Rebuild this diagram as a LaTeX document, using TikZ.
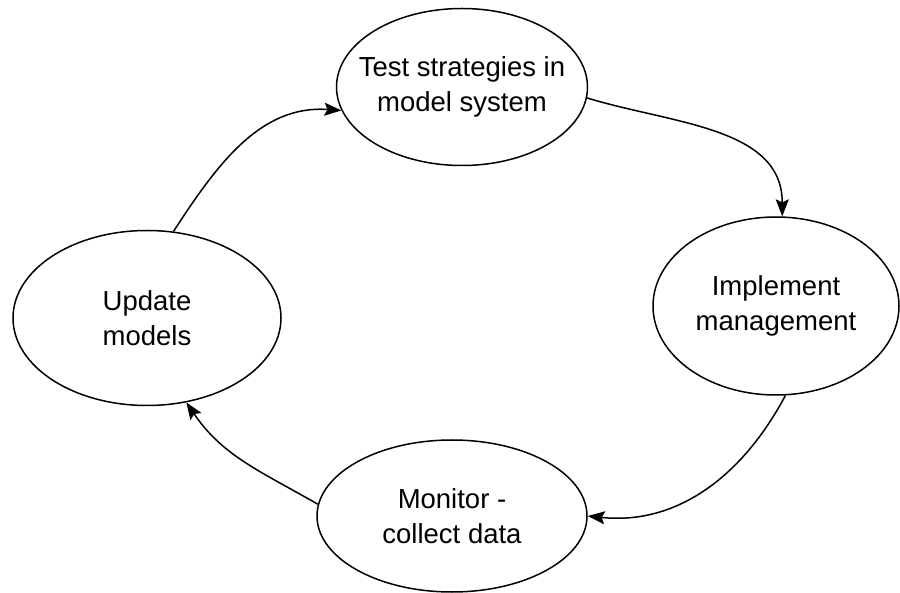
\documentclass[tikz,border=0pt]{standalone}
\usepackage{fontspec}
\setmainfont{Liberation Sans}
\usetikzlibrary{shapes.geometric,arrows.meta}
\tikzset{
    stage/.style={
        ellipse,
        draw,
        line width=1.5pt,
        inner xsep=-20pt,
        inner ysep=0pt,
        align=center,
        font=\fontsize{27.5}{35}\selectfont
    },
    flow/.style={
        line width=1.5pt,
        -{Stealth[length=17pt,width=13pt,inset=3pt]}
    }
}

\begin{document}
\begin{tikzpicture}[x=1pt,y=-1pt]
        \useasboundingbox (0,0) rectangle (900,593);
        \node[stage,minimum width=251pt,minimum height=157pt] (test) at (462,87) {Test strategies in\\model system};
        \node[stage,minimum width=246pt,minimum height=178pt] (impl) at (776,306) {Implement\\management};
        \node[stage,minimum width=270pt,minimum height=152pt] (monitor) at (452,516) {Monitor -\\collect data};
        \node[stage,minimum width=268pt,minimum height=175pt] (update) at (147,318) {Update\\models};
        % the cycle
        \draw[flow] (test.-5) to[out=-17,in=90] (impl.86);
        \draw[flow] (impl.-84) to[out=-118,in=-6] (monitor.0);
        \draw[flow] (monitor.175) to[out=150,in=-56] (update.-65);
        \draw[flow] (update.73) to[out=57,in=176] (test.191);
    \end{tikzpicture}
\end{document}
